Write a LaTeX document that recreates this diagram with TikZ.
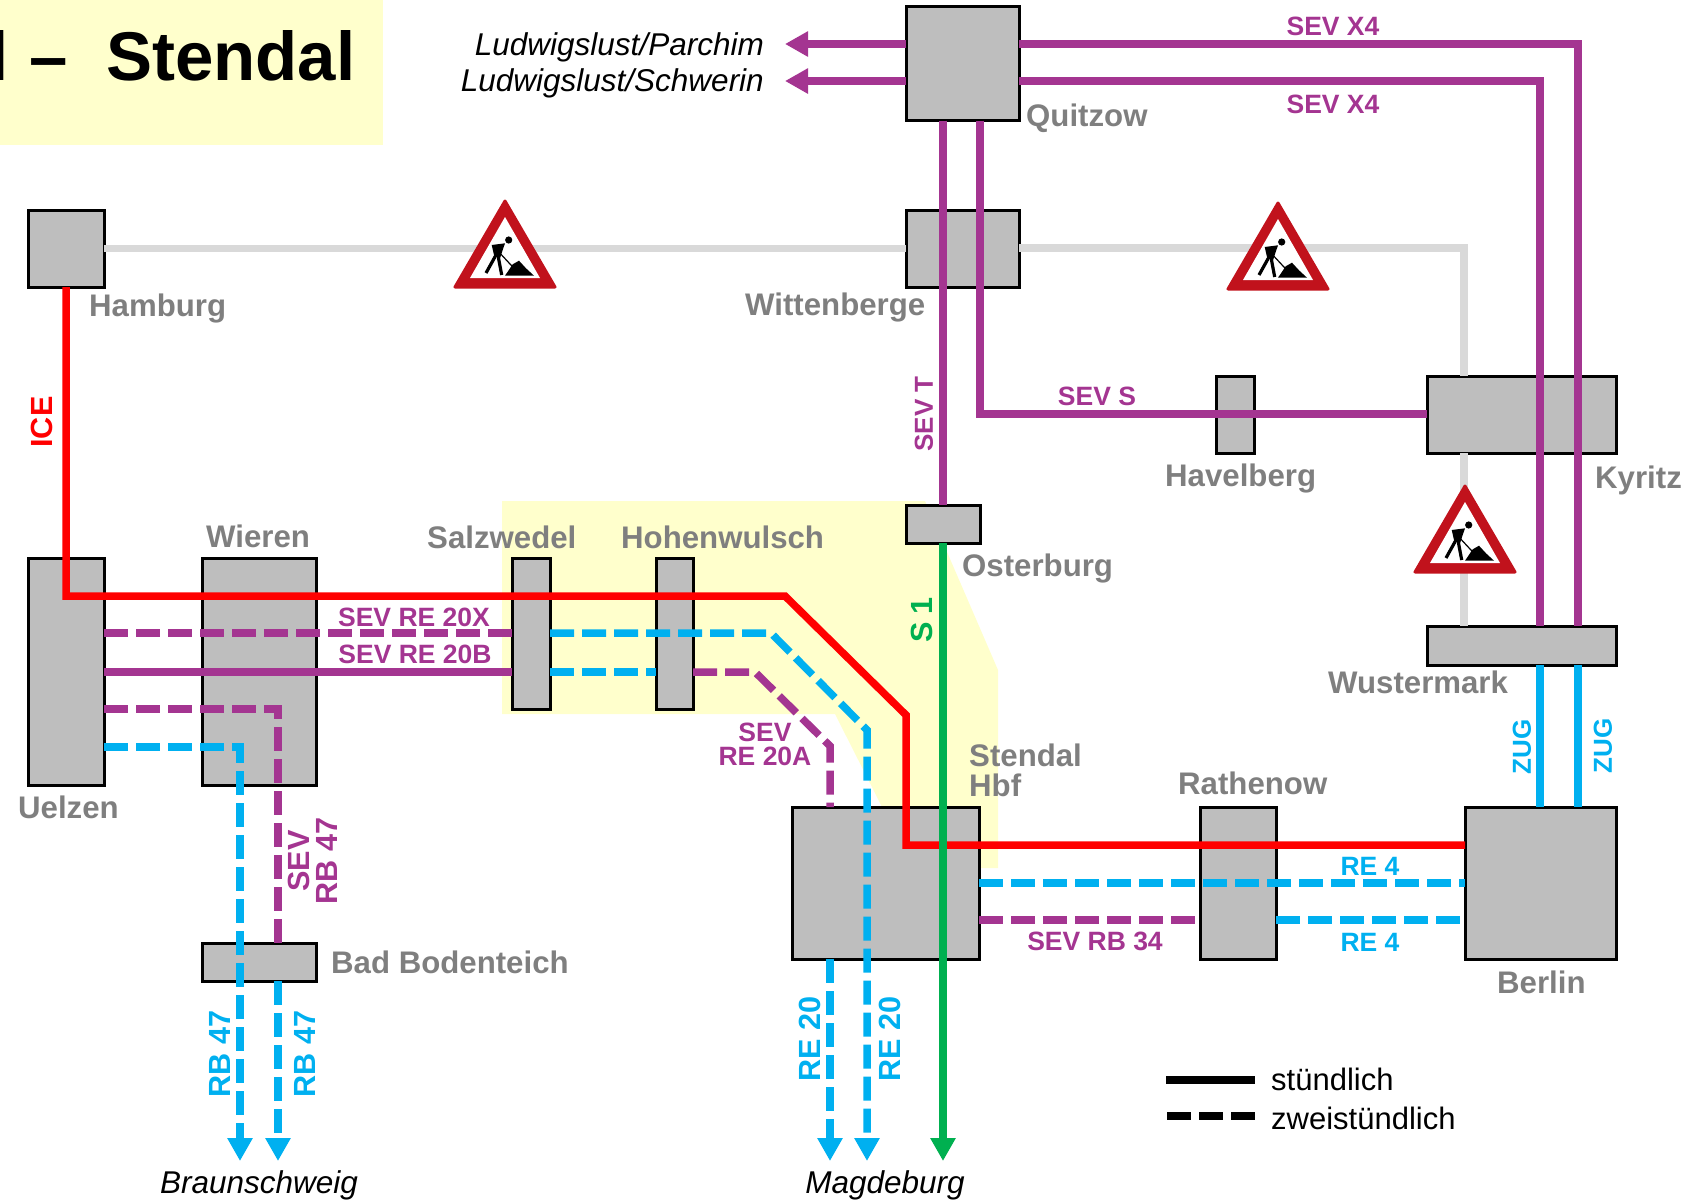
\documentclass[tikz,border=0pt]{standalone}
\usepackage{fontspec}
\setmainfont{Liberation Sans}
\usepackage{xcolor}
\usepackage{tikz}
\usetikzlibrary{arrows.meta,positioning}
\definecolor{titleyellow}{HTML}{FFFFCC}
\definecolor{stationgray}{HTML}{BEBEBE}
\definecolor{namegray}{HTML}{7F7F7F}
\definecolor{closedgray}{HTML}{D9D9D9}
\definecolor{sevpurple}{HTML}{A43591}
\definecolor{rblue}{HTML}{00B0F0}
\definecolor{sgreen}{HTML}{00B050}
\definecolor{signred}{HTML}{C1121C}

\begin{document}
\begin{tikzpicture}[
  x=1pt, y=-1pt,
  station/.style 2 args={draw=black, line width=3pt, fill=stationgray, anchor=north west, minimum width=#1pt, minimum height=#2pt, inner sep=0pt, outer sep=0pt},
  stationname/.style={font=\fontsize{31.2}{31}\selectfont\bfseries, text=namegray, anchor=base west, inner sep=0pt},
  linename/.style={font=\fontsize{26.5}{24}\selectfont\bfseries, anchor=base, inner sep=0pt, align=center},
  sidename/.style={font=\fontsize{30.6}{28}\selectfont\bfseries, rotate=90, inner sep=0pt, align=center},
  placename/.style={font=\fontsize{31.5}{31}\selectfont\itshape, inner sep=0pt},
  legendname/.style={font=\fontsize{31}{31}\selectfont, anchor=base west, inner sep=0pt},
  route/.style={line width=7.5pt},
  twohourly/.style={dash pattern=on 24pt off 8pt},
  arrow/.style={-{Triangle[length=23pt,width=24pt]}},
  roadworks/.pic={
    \fill[signred, draw=signred, line width=3pt, line join=round] (0,1) -- (50,87) -- (-50,87) -- cycle;
    \fill[white] (0,17) -- (35,78) -- (-35,78) -- cycle;
    \fill[black] (3.7,40) circle (3.6);
    \fill[black] (-13.3,45) -- (0,43.3) -- (-2.3,50) -- (-5,58.3) -- (-11,55) -- cycle;
    \draw[black, line width=3.2pt] (-9,55) -- (-19,73);
    \draw[black, line width=3.2pt] (-6.7,57) -- (-3.3,75);
    \draw[black, line width=1.2pt] (-8,50) -- (9,68.3);
    \fill[black] (0,75.7) -- (7.7,64.3) -- (14,60.7) -- (21,68.3) -- (29,75.7) -- cycle;
  }
]
\clip (0,0) rectangle (1708,1202);
\fill[titleyellow] (0,0) rectangle (383,145);
\fill[titleyellow] (502,501) -- (925,501) -- (998,670) -- (998,868) -- (960,868) -- (882,807) -- (835,714) -- (502,714) -- cycle;
\node[font=\fontsize{69}{69}\selectfont\bfseries, anchor=base east, inner sep=0pt] (title) at (355.5,80) {l\hspace{2pt} -- \ Stendal};

\node[station={76}{77}] (hamburg) at (28,210) {};
\node[station={76}{227}, below=271pt of hamburg] (uelzen) {};
\node[station={114}{227}, right=98pt of uelzen] (wieren) {};
\node[station={114}{38}, below=158pt of wieren] (bodenteich) {};
\node[station={38}{151}, right=196pt of wieren.north east, anchor=north west] (salzwedel) {};
\node[station={37}{151}, right=106pt of salzwedel] (hohenwulsch) {};
\node[station={113}{114}] (quitzow) at (906,6.5) {};
\node[station={113}{77}, below=89.5pt of quitzow] (wittenberge) {};
\node[station={74}{38}] (osterburg) at (906,505) {};
\node[station={189}{77}] (kyritz) at (1427,376) {};
\node[station={38}{77}, left=173pt of kyritz] (havelberg) {};
\node[station={189}{39}, below=173pt of kyritz] (wustermark) {};
\node[station={151}{152}] (berlin) at (1465,807) {};
\node[station={76}{152}, left=189pt of berlin] (rathenow) {};
\node[station={187}{152}, left=221pt of rathenow] (stendal) {};

\coordinate (closedbend) at (1464,248);
\coordinate (xfoura) at (1578,44);
\coordinate (xfourb) at (1540,81);
\coordinate (parchimtip) at (785,44);
\coordinate (schwerintip) at (785,81);
\coordinate (sevsbend) at (980,414);
\coordinate (sevtline) at (943,300);
\coordinate (icetop) at (66,596);
\coordinate (icea) at (785,596);
\coordinate (iceb) at (906,715);
\coordinate (icec) at (906,845);
\coordinate (xline) at (771,633);
\coordinate (xdiag) at (867,730);
\coordinate (magdeburgb) at (867,1161);
\coordinate (bline) at (755,672);
\coordinate (adiag) at (830,746);
\coordinate (magdeburga) at (830,1161);
\coordinate (magdeburgc) at (943,1161);
\coordinate (sevbend) at (278,709);
\coordinate (blubend) at (240,747);
\coordinate (braunschweiga) at (240,1161);
\coordinate (braunschweigb) at (278,1161);
\coordinate (refour) at (1100,883);
\coordinate (sevrb) at (1100,920);
\coordinate (solida) at (1166,1080);
\coordinate (solidb) at (1255,1080);
\coordinate (dasha) at (1167,1116);
\coordinate (dashb) at (1256,1116);

\draw[route, closedgray] (hamburg) -- (wittenberge);
\draw[route, closedgray] (wittenberge.east |- closedbend) -- (closedbend) -- (kyritz.north -| closedbend);
\draw[route, closedgray] (kyritz.south -| closedbend) -- (wustermark.north -| closedbend);

\draw[route, sevpurple] (quitzow.east |- xfoura) -- (xfoura) -- (wustermark.north -| xfoura);
\draw[route, sevpurple] (quitzow.east |- xfourb) -- (xfourb) -- (wustermark.north -| xfourb);
\draw[route, sevpurple, arrow] (quitzow.west |- parchimtip) -- (parchimtip);
\draw[route, sevpurple, arrow] (quitzow.west |- schwerintip) -- (schwerintip);
\draw[route, sevpurple] (quitzow.south -| sevtline) -- (osterburg.north -| sevtline);
\draw[route, sevpurple] (quitzow.south -| sevsbend) -- (sevsbend) -- (kyritz.west |- sevsbend);

\draw[route, red] (hamburg.south -| icetop) -- (icetop) -- (icea) -- (iceb) -- (icec) -- (berlin.west |- icec);

\draw[route, sevpurple, twohourly] (uelzen.east |- xline) -- (salzwedel.west |- xline);
\draw[route, rblue, twohourly] (salzwedel.east |- xline) -- (xline) -- (xdiag) [arrow] -- (magdeburgb);
\draw[route, sevpurple] (uelzen.east |- bline) -- (salzwedel.west |- bline);
\draw[route, rblue, twohourly] (salzwedel.east |- bline) -- (hohenwulsch.west |- bline);
\draw[route, sevpurple, twohourly] (hohenwulsch.east |- bline) -- (bline) -- (adiag) -- (stendal.north -| adiag);
\draw[route, sevpurple, twohourly] (uelzen.east |- sevbend) -- (sevbend) -- (bodenteich.north -| sevbend);
\draw[route, rblue, twohourly, arrow] (uelzen.east |- blubend) -- (blubend) -- (braunschweiga);
\draw[route, rblue, twohourly, arrow] (bodenteich.south -| braunschweigb) -- (braunschweigb);
\draw[route, rblue, twohourly, arrow] (stendal.south -| magdeburga) -- (magdeburga);
\draw[route, sgreen, arrow] (osterburg.south -| magdeburgc) -- (magdeburgc);

\draw[route, rblue, twohourly] (stendal.east |- refour) -- (berlin.west |- refour);
\draw[route, sevpurple, twohourly] (stendal.east |- sevrb) -- (rathenow.west |- sevrb);
\draw[route, rblue, twohourly] (rathenow.east |- sevrb) -- (berlin.west |- sevrb);
\draw[route, rblue] (wustermark.south -| xfourb) -- (berlin.north -| xfourb);
\draw[route, rblue] (wustermark.south -| xfoura) -- (berlin.north -| xfoura);

\pic at (505,200) {roadworks};
\pic at (1278,202) {roadworks};
\pic at (1465,485) {roadworks};

\node[stationname] (hamburgname) at (89,316) {Hamburg};
\node[stationname] (wierenname) at (206,547) {Wieren};
\node[stationname] (salzwedelname) at (427,548) {Salzwedel};
\node[stationname] (hohenwulschname) at (621,548) {Hohenwulsch};
\node[stationname] (wittenbergename) at (745,315) {Wittenberge};
\node[stationname] (quitzowname) at (1026,126) {Quitzow};
\node[stationname] (osterburgname) at (962,576) {Osterburg};
\node[stationname] (havelbergname) at (1165,486) {Havelberg};
\node[stationname] (kyritzname) at (1595,488) {Kyritz};
\node[stationname] (wustermarkname) at (1328,693) {Wustermark};
\node[stationname] (rathenowname) at (1178,794) {Rathenow};
\node[stationname] (stendalname) at (969,766) {Stendal};
\node[stationname] (hbfname) at (969,796) {Hbf};
\node[stationname] (berlinname) at (1497,993) {Berlin};
\node[stationname] (uelzenname) at (18,818) {Uelzen};
\node[stationname] (bodenteichname) at (331,973) {Bad Bodenteich};

\node[placename, anchor=base east] (parchimname) at (764,55) {Ludwigslust/Parchim};
\node[placename, anchor=base east] (schwerinname) at (764,91) {Ludwigslust/Schwerin};
\node[placename, anchor=base] (braunschweigname) at (259,1193) {Braunschweig};
\node[placename, anchor=base] (magdeburgname) at (885,1193) {Magdeburg};

\node[linename, text=sevpurple] (xfouraname) at (1333,35) {SEV X4};
\node[linename, text=sevpurple] (xfourbname) at (1333,113) {SEV X4};
\node[linename, text=sevpurple] (sevsname) at (1097,405) {SEV S};
\node[linename, text=sevpurple] (xname) at (414,626) {SEV RE 20X};
\node[linename, text=sevpurple] (bname) at (415,663) {SEV RE 20B};
\node[linename, text=sevpurple] (aname) at (765,765) {SEV\\RE 20A};
\node[linename, text=sevpurple] (sevrbname) at (1095,950) {SEV RB 34};
\node[linename, text=rblue] (refouraname) at (1370,875) {RE 4};
\node[linename, text=rblue] (refourbname) at (1370,951) {RE 4};

\node[sidename, text=red] (icename) at (42,422) {ICE};
\node[sidename, text=sgreen] (sonename) at (922,620) {S 1};
\node[sidename, text=sevpurple, font=\fontsize{26}{26}\selectfont\bfseries] (sevtname) at (924,414) {SEV T};
\node[sidename, text=sevpurple] (sevrbsidename) at (313,861) {SEV\\RB 47};
\node[sidename, text=rblue] (rbaname) at (220,1054) {RB 47};
\node[sidename, text=rblue] (rbbname) at (305,1054) {RB 47};
\node[sidename, text=rblue] (reaname) at (810,1039) {RE 20};
\node[sidename, text=rblue] (rebname) at (890,1039) {RE 20};
\node[sidename, text=rblue, font=\fontsize{26}{26}\selectfont\bfseries] (zuganame) at (1522,747) {ZUG};
\node[sidename, text=rblue, font=\fontsize{26}{26}\selectfont\bfseries] (zugbname) at (1603,746) {ZUG};

\draw[route, black] (solida) -- (solidb);
\draw[route, black, twohourly] (dasha) -- (dashb);
\node[legendname] (stuendlich) at (1271,1090) {stündlich};
\node[legendname] (zweistuendlich) at (1271,1129) {zweistündlich};
\end{tikzpicture}
\end{document}
